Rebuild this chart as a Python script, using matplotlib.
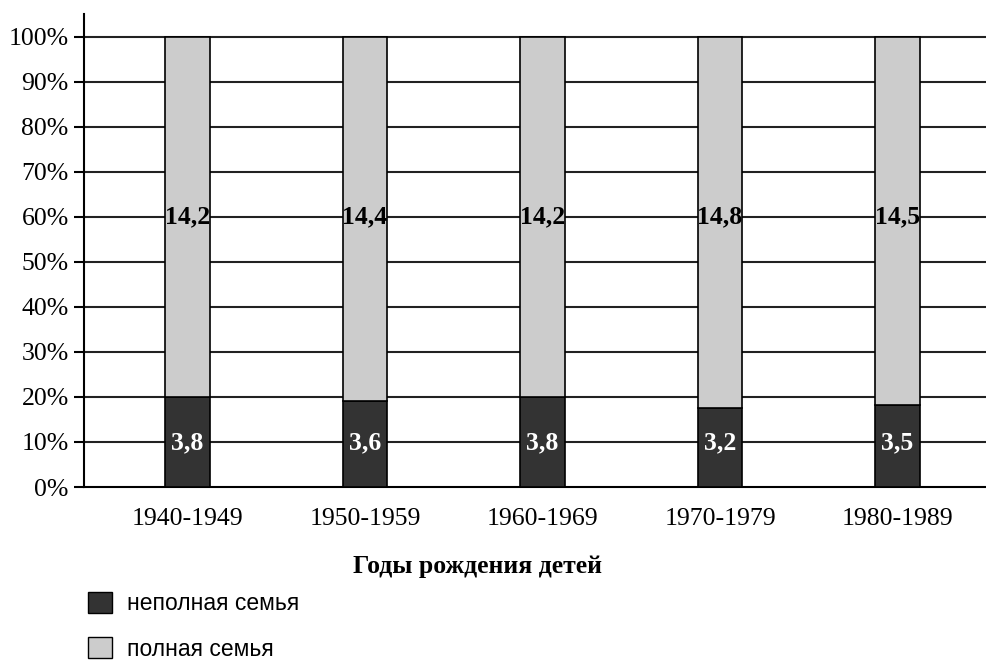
import matplotlib
matplotlib.use("Agg")
import matplotlib.pyplot as plt
import numpy as np
from matplotlib.patches import Patch

# Data
periods = ["1940-1949", "1950-1959", "1960-1969", "1970-1979", "1980-1989"]
incomplete_label = ["3,8", "3,6", "3,8", "3,2", "3,5"]
complete_label = ["14,2", "14,4", "14,2", "14,8", "14,5"]
incomplete_pct = [20.0, 19.1, 20.1, 17.6, 18.2]
complete_pct = [80.0, 80.9, 79.9, 82.4, 81.8]

DARK = "#333333"
LIGHT = "#cccccc"
SERIF = "Liberation Serif"

fig = plt.figure(figsize=(9.87, 6.63), dpi=100)
ax = fig.add_axes([84 / 987, 1 - 487 / 663, 1 - 84 / 987, (487 - 14) / 663])

x = np.arange(len(periods))
w = 0.25
ax.bar(x, incomplete_pct, w, color=DARK, edgecolor="black", linewidth=1.2, zorder=3)
ax.bar(x, complete_pct, w, bottom=incomplete_pct, color=LIGHT, edgecolor="black",
       linewidth=1.2, zorder=3)

for i in range(len(periods)):
    ax.text(x[i], 9.8, incomplete_label[i], ha="center", va="center",
            color="white", fontsize=18.5, fontweight="bold", family=SERIF, zorder=4)
    ax.text(x[i], 60, complete_label[i], ha="center", va="center",
            color="black", fontsize=18.5, fontweight="bold", family=SERIF, zorder=4)

ax.set_xlim(-0.583, 4.504)
ax.set_ylim(0, 105.1)
ax.set_yticks(np.arange(0, 101, 10))
ax.set_yticklabels([f"{v}%" for v in range(0, 101, 10)], family=SERIF, fontsize=18.5)
ax.set_xticks(x)
ax.set_xticklabels(periods, family=SERIF, fontsize=18.5)
ax.tick_params(axis="y", length=7, width=1.5, pad=4)
ax.tick_params(axis="x", length=0, pad=15)

for v in range(10, 101, 10):
    ax.axhline(v, color="#222222", linewidth=1.5, zorder=1)

for s in ["top", "right"]:
    ax.spines[s].set_visible(False)
ax.spines["left"].set_linewidth(1.5)
ax.spines["bottom"].set_linewidth(1.5)

fig.text(478 / 987, 1 - 567 / 663, "Годы рождения детей", ha="center", va="center",
         family=SERIF, fontsize=18.5, fontweight="bold")

handles = [Patch(facecolor=DARK, edgecolor="black", linewidth=1),
           Patch(facecolor=LIGHT, edgecolor="black", linewidth=1)]
fig.legend(handles, ["неполная семья", "полная семья"], loc="upper left",
           bbox_to_anchor=(88 / 987, 1 - 592 / 663), frameon=False, borderpad=0,
           borderaxespad=0, handlelength=1.05, handleheight=1.05, handletextpad=0.65,
           labelspacing=0.95, prop={"family": "Liberation Sans", "size": 16.5})

fig.savefig("out.png", dpi=100)
